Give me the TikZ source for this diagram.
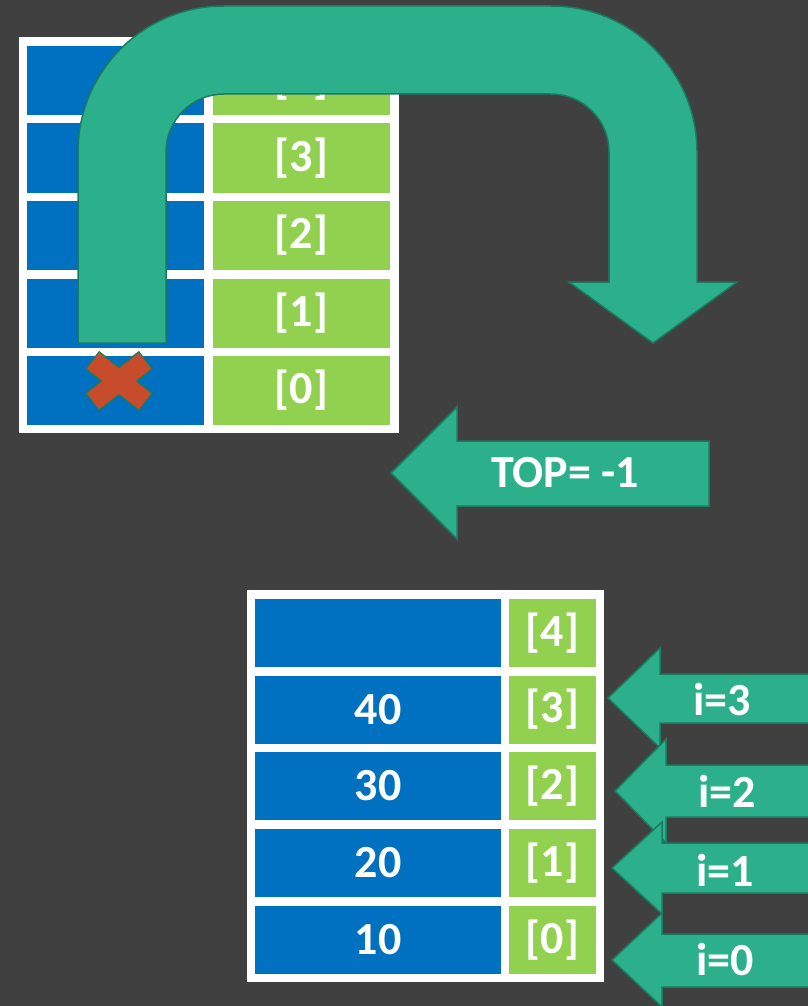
\documentclass[tikz,border=0pt]{standalone}
\usepackage{fontspec}
\setmainfont{Carlito}
\definecolor{bg}{RGB}{64,64,64}
\definecolor{cellblue}{RGB}{0,112,192}
\definecolor{cellgreen}{RGB}{146,208,80}
\definecolor{arrowfill}{RGB}{43,176,139}
\definecolor{arrowedge}{RGB}{28,122,96}
\definecolor{crossred}{RGB}{198,76,44}
\begin{document}
\begin{tikzpicture}[x=1pt,y=-1pt,
  lbl/.style={text=white,font=\fontsize{46}{50}\selectfont\bfseries,inner sep=0pt},
  cell/.style={rectangle,draw=none,inner sep=0pt,text=white,font=\fontsize{46}{50}\selectfont\bfseries},
  bluecell/.style={cell,fill=cellblue},
  greencell/.style={cell,fill=cellgreen},
  frame/.style={fill=white,draw=none},
  blockarrow/.style={fill=arrowfill,draw=arrowedge,line width=1.5pt,line join=miter}
]
% canvas
\fill[bg] (0,0) rectangle (808,1006);
\useasboundingbox (0,0) rectangle (808,1006);
\clip (0,0) rectangle (808,1006);

% ---------- upper stack (emptied) ----------
\fill[frame] (19,37) rectangle (399,433);
\foreach \r/\yc in {4/80.5,3/158,2/235.5,1/313,0/390.5}{
  \node[bluecell,minimum width=177,minimum height=69] (ub\r) at (115.5,\yc) {};
  \node[greencell,minimum width=177,minimum height=69] (ug\r) at (301.5,\yc) {[\r]};
}

% removed element marker
\begin{scope}[shift={(119,381)}]
  \draw[arrowedge,line width=23pt] (-27,-21) -- (27,21);
  \draw[arrowedge,line width=23pt] (-27,21) -- (27,-21);
  \draw[crossred,line width=20pt,shorten <=1.2pt,shorten >=1.2pt] (-27,-21) -- (27,21);
  \draw[crossred,line width=20pt,shorten <=1.2pt,shorten >=1.2pt] (-27,21) -- (27,-21);
\end{scope}

% U-turn arrow leaving the stack
\draw[blockarrow]
  (78,343) -- (78,152) arc[start angle=180,end angle=270,radius=146]
  -- (551,6) arc[start angle=270,end angle=360,radius=146]
  -- (697,282) -- (737,282) -- (653,343) -- (569,282) -- (609,282)
  -- (609,152) arc[start angle=0,end angle=-90,radius=58]
  -- (224,94) arc[start angle=270,end angle=180,radius=58]
  -- (166,343) -- cycle;

% TOP pointer
\draw[blockarrow] (391,473) -- (457,407) -- (457,441) -- (709,441)
  -- (709,506) -- (457,506) -- (457,539) -- cycle;
\node[lbl] (toplbl) at (565,473) {TOP= -1};

% ---------- lower stack ----------
\fill[frame] (247,590) rectangle (604,982);
\foreach \r/\yc/\v in {4/633/,3/709.5/40,2/786/30,1/863/20,0/940/10}{
  \node[bluecell,minimum width=246,minimum height=68] (lb\r) at (378,\yc) {\v};
  \node[greencell,minimum width=87,minimum height=68] (lg\r) at (552.5,\yc) {[\r]};
}

% index pointers
\draw[blockarrow] (608,698) -- (660,648) -- (660,674) -- (830,674)
  -- (830,723) -- (660,723) -- (660,748) -- cycle;
\node[lbl] (i3) at (722,700) {i=3};
\draw[blockarrow] (615,791) -- (666,739) -- (666,765) -- (830,765)
  -- (830,817) -- (666,817) -- (666,843) -- cycle;
\node[lbl] (i2) at (727,791) {i=2};
\draw[blockarrow] (612,868) -- (662,822) -- (662,843) -- (830,843)
  -- (830,893) -- (662,893) -- (662,914) -- cycle;
\node[lbl] (i1) at (725,870) {i=1};
\draw[blockarrow] (612,960) -- (662,913) -- (662,934) -- (830,934)
  -- (830,987) -- (662,987) -- (662,1007) -- cycle;
\node[lbl] (i0) at (725,960) {i=0};
\end{tikzpicture}
\end{document}
